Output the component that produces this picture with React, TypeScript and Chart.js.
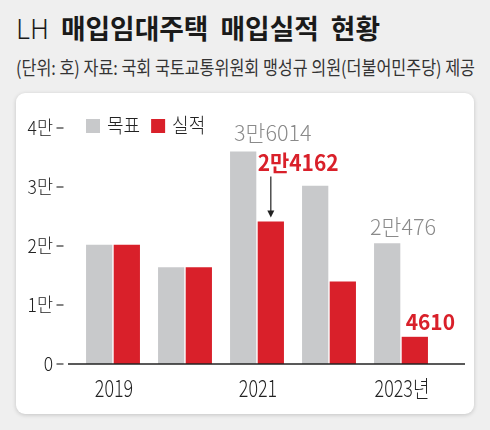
import React, { useEffect, useLayoutEffect, useRef } from 'react';
import { Chart, registerables } from 'chart.js';

Chart.register(...registerables);

// ---- data ----
const years = ['2019', '2020', '2021', '2022', '2023'];
const xTickLabels = ['2019', '', '2021', '', '2023년'];
const targetValues = [20200, 16400, 36014, 30200, 20476];
const actualValues = [20200, 16400, 24162, 14000, 4610];
const seriesNames = ['목표', '실적'];
const yTickValues = [0, 10000, 20000, 30000, 40000];
const yTickLabels = ['0', '1만', '2만', '3만', '4만'];
const labelledYears = ['2021', '2023'];

const FONT = '"Noto Sans CJK KR", "Noto Sans", sans-serif';
const GRAY = '#c8c9cb';
const RED = '#d9202a';

function fmt(v: number): string {
  if (v >= 10000) return `${Math.floor(v / 10000)}만${v % 10000}`;
  return `${v}`;
}

function drawText(
  ctx: CanvasRenderingContext2D,
  text: string,
  x: number,
  y: number,
  font: string,
  color: string,
  align: 'left' | 'center' | 'right',
  sx: number
) {
  ctx.save();
  ctx.font = font;
  ctx.fillStyle = color;
  ctx.textBaseline = 'alphabetic';
  ctx.textAlign = 'left';
  const w = ctx.measureText(text).width * sx;
  let left = x;
  if (align === 'center') left = x - w / 2;
  else if (align === 'right') left = x - w;
  ctx.translate(left, y);
  ctx.scale(sx, 1);
  ctx.fillText(text, 0, 0);
  ctx.restore();
  return w;
}

// label placement styles (relative to the bar element)
const labelStyles: Record<number, { font: string; color: string; sx: number; dx: number; dy: number; arrow: boolean }> = {
  0: { font: `300 22px ${FONT}`, color: '#8a8a8a', sx: 0.98, dx: 4, dy: -11, arrow: false },
  1: { font: `700 22px ${FONT}`, color: RED, sx: 0.95, dx: 0, dy: -50, arrow: true },
};
const labelStyles2023: Record<number, { dx: number; dy: number }> = {
  0: { dx: -4, dy: -8 },
  1: { dx: 4, dy: -7 },
};

const customDraw = {
  id: 'customDraw',
  afterDatasetsDraw(chart: any) {
    const ctx: CanvasRenderingContext2D = chart.ctx;
    const ca = chart.chartArea;
    const xs = chart.scales.x;
    const ys = chart.scales.y;

    // y ticks
    yTickValues.forEach((v, i) => {
      const y = ys.getPixelForValue(v);
      drawText(ctx, yTickLabels[i], ca.left - 24, y + 7, `300 19px ${FONT}`, '#222', 'right', 0.92);
      ctx.save();
      ctx.strokeStyle = '#333';
      ctx.lineWidth = 1.2;
      ctx.beginPath();
      ctx.moveTo(ca.left - 20.5, y);
      ctx.lineTo(ca.left - 13.5, y);
      ctx.stroke();
      ctx.restore();
    });

    // baseline
    const y0 = ys.getPixelForValue(0);
    ctx.save();
    ctx.strokeStyle = '#222';
    ctx.lineWidth = 1.5;
    ctx.beginPath();
    ctx.moveTo(ca.left - 9, y0);
    ctx.lineTo(ca.right + 28, y0);
    ctx.stroke();
    ctx.restore();

    // x labels
    years.forEach((_, i) => {
      const x = xs.getPixelForValue(i);
      if (xTickLabels[i]) drawText(ctx, xTickLabels[i], x + 1, y0 + 33, `300 23px ${FONT}`, '#222', 'center', 0.78);
    });

    // legend
    let lx = ca.left + 9;
    chart.data.datasets.forEach((ds: any) => {
      ctx.save();
      ctx.fillStyle = ds.backgroundColor;
      ctx.fillRect(lx, ca.top - 9, 14, 14);
      ctx.restore();
      const w = drawText(ctx, ds.label, lx + 21, ca.top + 5, `300 20px ${FONT}`, '#222', 'left', 0.9);
      lx += 21 + w + 11;
    });

    // value labels
    chart.data.datasets.forEach((ds: any, di: number) => {
      const meta = chart.getDatasetMeta(di);
      years.forEach((yr, i) => {
        if (!labelledYears.includes(yr)) return;
        const bar = meta.data[i];
        const left = bar.x - bar.width / 2;
        const st = labelStyles[di];
        let dx = st.dx, dy = st.dy, arrow = st.arrow;
        if (yr === '2023') {
          dx = labelStyles2023[di].dx;
          dy = labelStyles2023[di].dy;
          arrow = false;
        }
        drawText(ctx, fmt(ds.data[i]), left + dx, bar.y + dy, st.font, st.color, 'left', st.sx);
        if (arrow) {
          const ax = bar.x;
          const top = bar.y + dy + 5;
          const bot = bar.y - 4;
          ctx.save();
          ctx.strokeStyle = '#222';
          ctx.fillStyle = '#222';
          ctx.lineWidth = 1.2;
          ctx.beginPath();
          ctx.moveTo(ax, top);
          ctx.lineTo(ax, bot - 6);
          ctx.stroke();
          ctx.beginPath();
          ctx.moveTo(ax - 3.5, bot - 7);
          ctx.lineTo(ax + 3.5, bot - 7);
          ctx.lineTo(ax, bot);
          ctx.closePath();
          ctx.fill();
          ctx.restore();
        }
      });
    });
  },
};

function FitText({ width, style, children }: { width: number; style: React.CSSProperties; children: React.ReactNode }) {
  const ref = useRef<HTMLDivElement>(null);
  useLayoutEffect(() => {
    const el = ref.current;
    if (!el) return;
    el.style.transform = 'none';
    const w = el.getBoundingClientRect().width;
    if (w > 0) el.style.transform = `scaleX(${width / w})`;
  });
  return (
    <div
      ref={ref}
      style={{ position: 'absolute', whiteSpace: 'nowrap', transformOrigin: 'left top', display: 'inline-block', ...style }}
    >
      {children}
    </div>
  );
}

export default function App() {
  const canvasRef = useRef<HTMLCanvasElement>(null);

  useEffect(() => {
    if (!canvasRef.current) return;
    const chart = new Chart(canvasRef.current, {
      type: 'bar',
      data: {
        labels: years,
        datasets: [
          { label: seriesNames[0], data: targetValues, backgroundColor: GRAY, barPercentage: 0.95, categoryPercentage: 0.768 },
          { label: seriesNames[1], data: actualValues, backgroundColor: RED, barPercentage: 0.95, categoryPercentage: 0.768 },
        ],
      },
      options: {
        responsive: false,
        animation: false,
        layout: { padding: { left: 77, right: 53, top: 128, bottom: 66 } },
        plugins: { legend: { display: false }, tooltip: { enabled: false }, title: { display: false } },
        scales: {
          x: { display: false },
          y: { display: false, min: 0, max: 40000 },
        },
      },
      plugins: [customDraw],
    });
    return () => chart.destroy();
  }, []);

  return (
    <div style={{ position: 'absolute', left: 0, top: 0, width: 490, height: 430, background: '#efefef', overflow: 'hidden', fontFamily: FONT }}>
      <FitText width={364} style={{ left: 16, top: 14, fontSize: 27, lineHeight: '27px', color: '#1a1a1a' }}>
        <span style={{ fontWeight: 300 }}>LH</span>
        <span style={{ fontWeight: 700, wordSpacing: 6 }}> 매입임대주택 매입실적 현황</span>
      </FitText>
      <FitText width={459} style={{ left: 16, top: 57, fontSize: 19, lineHeight: '19px', color: '#333' }}>
        (단위: 호) 자료: 국회 국토교통위원회 맹성규 의원(더불어민주당) 제공
      </FitText>
      <div style={{ position: 'absolute', left: 16, top: 93, width: 458, height: 321, background: '#fff', borderRadius: 9, boxShadow: '0 1px 4px rgba(0,0,0,0.18)' }} />
      <canvas ref={canvasRef} width={490} height={430} style={{ position: 'absolute', left: 0, top: 0, width: 490, height: 430 }} />
    </div>
  );
}
